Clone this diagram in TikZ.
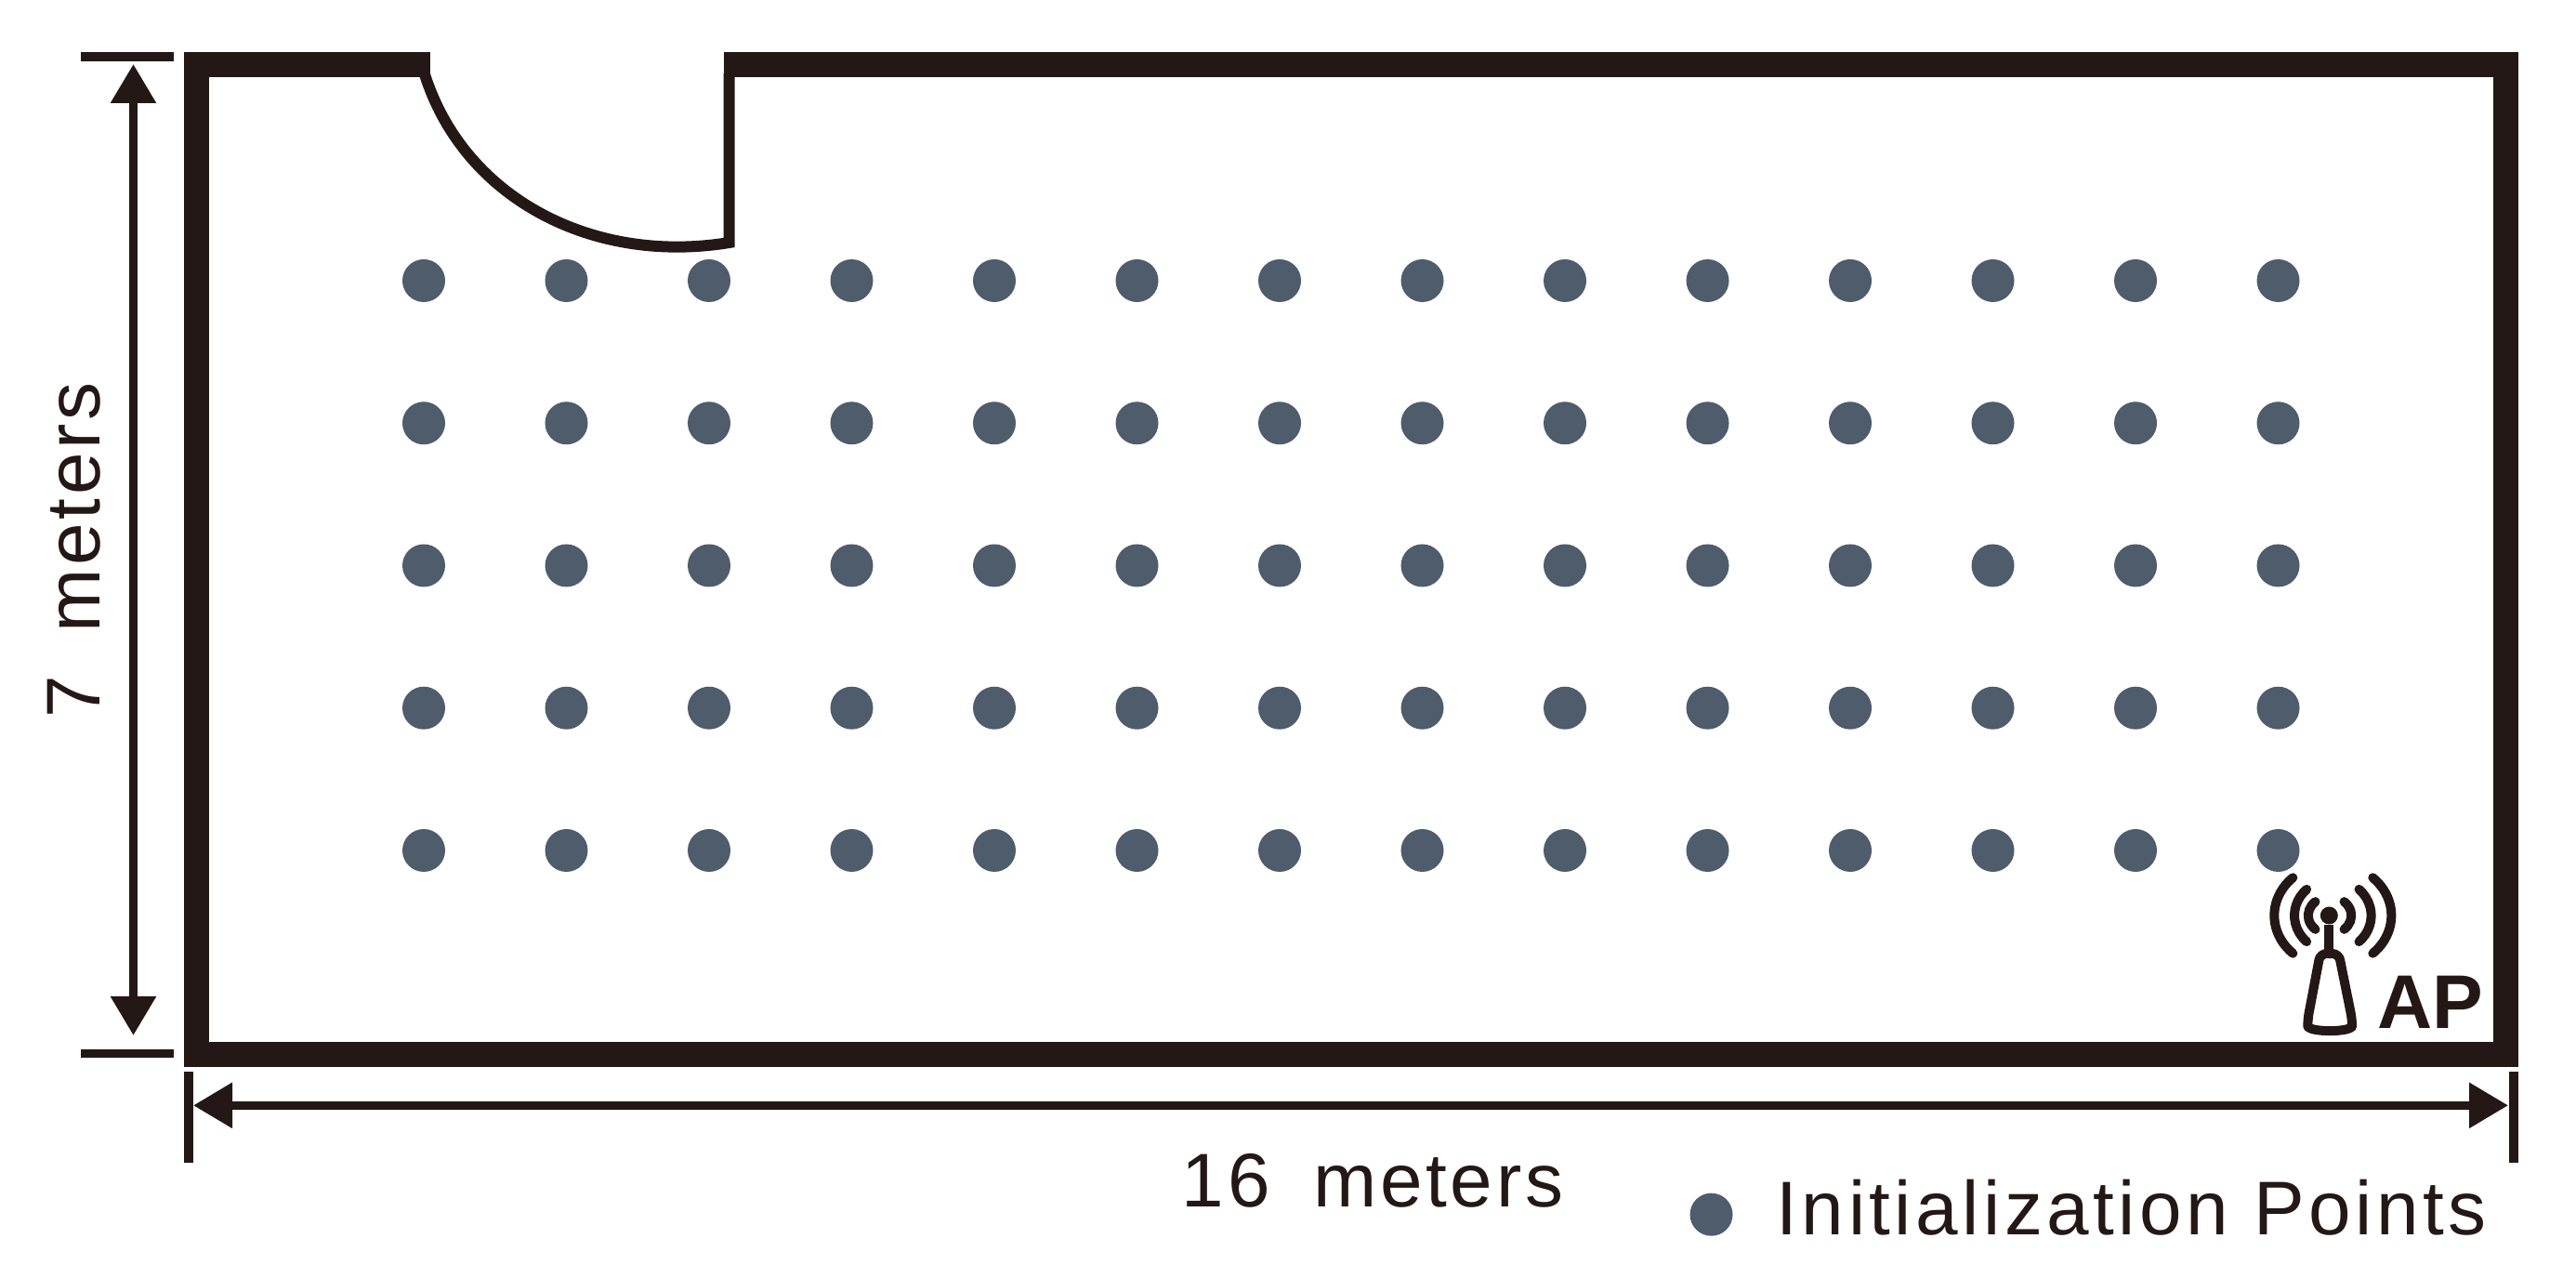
\documentclass[tikz,border=0pt]{standalone}
\usepackage{fontspec}
\usepackage{xcolor}
\setmainfont{Liberation Sans}
\newfontfamily\dimfont[LetterSpace=4.6]{Liberation Sans}
\newfontfamily\legendfont[LetterSpace=5.5]{Liberation Sans}
\usetikzlibrary{arrows.meta,positioning}
\definecolor{wallcol}{HTML}{231815}
\definecolor{pointcol}{HTML}{4E5C6C}

\begin{document}
\begin{tikzpicture}
		[wall/.style={draw=wallcol,line width=.27cm,miter limit=10},
		door/.style={draw=wallcol,line width=.12cm,miter limit=10},
		dimline/.style={draw=wallcol,line width=.09cm,{Triangle[length=.42cm,width=.47cm]}-{Triangle[length=.42cm,width=.47cm]}},
		tickline/.style={draw=wallcol,line width=.095cm},
		ipoint/.style={circle,fill=pointcol,minimum size=.46cm,inner sep=0pt},
		wave/.style={draw=wallcol,line width=.1cm,line cap=round},
		dimtext/.style={text=wallcol,inner sep=0pt,font=\fontsize{23.3pt}{28pt}\dimfont},
		legendtext/.style={text=wallcol,inner sep=0pt,font=\fontsize{23.3pt}{28pt}\legendfont}]
		\useasboundingbox (0,0) rectangle (27.72,13.74);
		% room and door
		\draw[wall] (4.63,13.04) -- (2.115,13.04) -- (2.115,2.396) -- (26.965,2.396) -- (26.965,13.04) -- (7.787,13.04);
		\draw[door] (4.57,12.94) .. controls (5.0,11.59) and (6.4,10.89) .. (7.847,11.13) -- (7.847,12.95);
		% initialization points
		\foreach \r in {0,...,4}
			\foreach \c in {0,...,13}
				\node[ipoint] (p-\r-\c) at (4.56+1.535*\c,10.72-1.5325*\r) {};
		% dimensions
		\coordinate (topL) at (.87,13.13);
		\coordinate (topR) at (1.87,13.13);
		\coordinate (botL) at (.87,2.405);
		\coordinate (botR) at (1.87,2.405);
		\coordinate (leftT) at (2.03,2.21);
		\coordinate (leftB) at (2.03,1.232);
		\coordinate (rightT) at (27.05,2.21);
		\coordinate (rightB) at (27.05,1.232);
		\coordinate (h1) at (1.435,13.05);
		\coordinate (h2) at (1.435,2.6);
		\coordinate (w1) at (2.08,1.847);
		\coordinate (w2) at (26.99,1.847);
		\draw[tickline] (topL) -- (topR);
		\draw[tickline] (botL) -- (botR);
		\draw[tickline] (leftT) -- (leftB);
		\draw[tickline] (rightT) -- (rightB);
		\draw[dimline] (h1) -- (h2);
		\draw[dimline] (w1) -- (w2);
		\node[dimtext,rotate=90,anchor=base] (hLabel) at (1.07,7.82) {7\ \kern-.08em\ meters};
		\node[dimtext,anchor=base] (wLabel) at (14.77,.76) {16\ \kern-.08em\ meters};
		% access point
		\node[circle,fill=wallcol,minimum size=.19cm,inner sep=0pt] (apHead) at (25.063,3.89) {};
		\coordinate (apTop) at (25.063,3.48);
		\draw[wave,line cap=butt] (apHead) -- (apTop);
		\draw[wave,line cap=butt,rounded corners=.07cm] (24.967,3.48) -- (25.167,3.48) -- (25.31,2.773)
			.. controls (25.31,2.631) and (24.833,2.631) .. (24.833,2.773) -- cycle;
		\foreach \cx/\rx/\ry/\ang in {25.07/.232/.2/48,25.103/.413/.385/47,25.103/.63/.557/47} {
			\draw[wave] ([shift={(180-\ang:\rx cm and \ry cm)}]\cx,3.89) arc (180-\ang:180+\ang:\rx cm and \ry cm);
			\draw[wave] ([shift={(-\ang:\rx cm and \ry cm)}]\cx,3.89) arc (-\ang:\ang:\rx cm and \ry cm);
		}
		\node[anchor=base west,inner sep=0pt,text=wallcol,font=\fontsize{23.3pt}{28pt}\selectfont\bfseries] (apLabel) at (25.58,2.673) {AP};
		% legend
		\node[ipoint] (legendPoint) at (18.415,.673) {};
		\node[legendtext,anchor=base west] (legendLabel) at (19.11,.46) {Initialization Points};
\end{tikzpicture}
\end{document}
